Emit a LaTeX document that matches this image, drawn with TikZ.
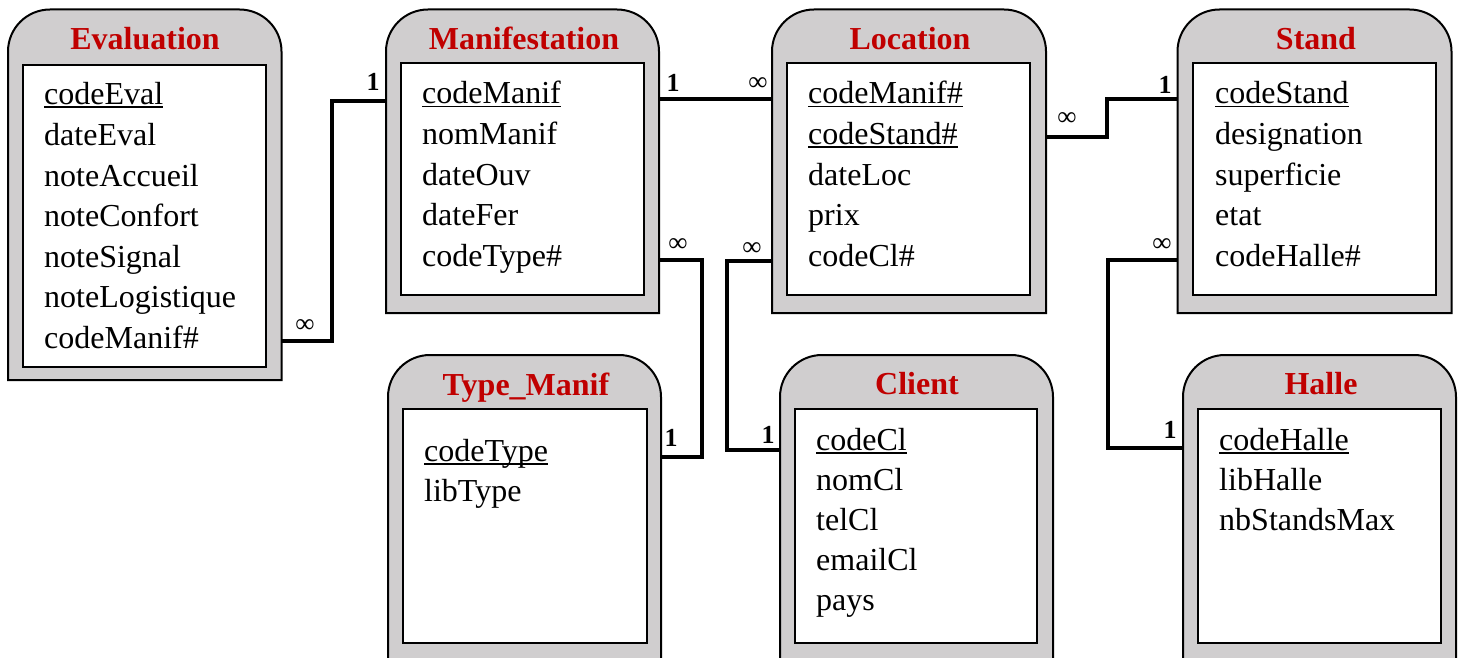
\documentclass[tikz,border=0pt]{standalone}
\usepackage{fontspec}
\setmainfont{Liberation Serif}
\definecolor{tabgray}{RGB}{208,206,207}
\definecolor{tabred}{RGB}{192,0,0}
\newcommand\keyul[1]{\setbox0\hbox{#1}\rlap{\rule[-3.5pt]{\wd0}{2pt}}\box0}
\newcommand\attrlist[5]{\foreach \t [count=\i from 0] in {#5} {\node[attr] (#1-\i) at ({#2},{#3+#4*\i}) {\t};}}
\newcommand\tabshape[1]{\draw[outerline] (#1.south west) -- ([yshift=-42pt]#1.north west) arc[start angle=180,end angle=90,radius=42pt] -- ([xshift=-42pt]#1.north east) arc[start angle=90,end angle=0,radius=42pt] -- (#1.south east) -- cycle;}
\tikzset{
 outerline/.style={draw=black, line width=2pt, fill=tabgray},
 innerbox/.style={draw=black, line width=2.5pt, fill=white, inner sep=0pt, outer sep=0pt, anchor=north west},
 tabframe/.style={draw=none, inner sep=0pt, outer sep=0pt, anchor=north west},
 titletxt/.style={font=\fontsize{32}{38}\selectfont\bfseries, text=tabred, anchor=base, inner sep=0pt},
 attr/.style={font=\fontsize{32}{38}\selectfont, anchor=base west, inner sep=0pt},
 conn/.style={line width=4pt, line join=miter},
 onelbl/.style={font=\fontsize{26}{30}\selectfont\bfseries, inner sep=0pt},
 manylbl/.style={font=\fontsize{27}{31}\selectfont, inner sep=0pt},
}
\begin{document}
\begin{tikzpicture}[x=1pt,y=-1pt]
\clip (0,0) rectangle (1461,658);
\fill[white] (0,0) rectangle (1461,658);
% frames
\node[tabframe, minimum width=273.5pt, minimum height=370.5pt] (eval) at (8,9.5) {};
\node[tabframe, minimum width=273pt, minimum height=303.5pt] (manif) at (386,9.5) {};
\node[tabframe, minimum width=274pt, minimum height=303.5pt] (loc) at (772,9.5) {};
\node[tabframe, minimum width=274pt, minimum height=303.5pt] (stand) at (1177.5,9.5) {};
\node[tabframe, minimum width=273pt, minimum height=325pt] (typem) at (388,355) {};
\node[tabframe, minimum width=273pt, minimum height=325pt] (client) at (780,355) {};
\node[tabframe, minimum width=273pt, minimum height=325pt] (halle) at (1183,355) {};
\tabshape{eval}
\tabshape{manif}
\tabshape{loc}
\tabshape{stand}
\tabshape{typem}
\tabshape{client}
\tabshape{halle}
% inner boxes
\node[innerbox, minimum width=243pt, minimum height=302pt] (evalin) at (23,65) {};
\node[innerbox, minimum width=243pt, minimum height=232pt] (manifin) at (401,63) {};
\node[innerbox, minimum width=243pt, minimum height=232pt] (locin) at (787,63) {};
\node[innerbox, minimum width=243pt, minimum height=232pt] (standin) at (1193,63) {};
\node[innerbox, minimum width=244pt, minimum height=234pt] (typemin) at (403,409) {};
\node[innerbox, minimum width=242pt, minimum height=234pt] (clientin) at (795,409) {};
\node[innerbox, minimum width=243pt, minimum height=234pt] (hallein) at (1198,409) {};
% titles
\node[titletxt] (evalt) at (145,50) {Evaluation};
\node[titletxt] (manift) at (524,50) {Manifestation};
\node[titletxt] (loct) at (910,50) {Location};
\node[titletxt] (standt) at (1316,50) {Stand};
\node[titletxt] (typemt) at (526,395) {Type\_Manif};
\node[titletxt] (clientt) at (917,394) {Client};
\node[titletxt] (hallet) at (1321,394) {Halle};
% attributes
\attrlist{evala}{44}{105}{40.5}{\keyul{codeEval},dateEval,noteAccueil,noteConfort,noteSignal,noteLogistique,codeManif\#}
\attrlist{manifa}{422}{104}{40.5}{\keyul{codeManif},nomManif,dateOuv,dateFer,codeType\#}
\attrlist{loca}{808}{104}{40.5}{\keyul{codeManif\#},\keyul{codeStand\#},dateLoc,prix,codeCl\#}
\attrlist{standa}{1215}{104}{40.5}{\keyul{codeStand},designation,superficie,etat,codeHalle\#}
\attrlist{typema}{424}{461}{40}{\keyul{codeType},libType}
\attrlist{clienta}{816}{450}{40}{\keyul{codeCl},nomCl,telCl,emailCl,pays}
\attrlist{hallea}{1219}{450}{40}{\keyul{codeHalle},libHalle,nbStandsMax}
% connectors
\draw[conn] (eval.east |- 0,341) -| (332,101) -- (manif.west |- 0,101);
\draw[conn] (manif.east |- 0,99) -- (loc.west |- 0,99);
\draw[conn] (manif.east |- 0,260) -| (702,457) -- (typem.east |- 0,457);
\draw[conn] (loc.west |- 0,261) -| (727,450) -- (client.west |- 0,450);
\draw[conn] (loc.east |- 0,137) -| (1107,99) -- (stand.west |- 0,99);
\draw[conn] (stand.west |- 0,260) -| (1108,448) -- (halle.west |- 0,448);
% cardinalities
\node[manylbl] (c1a) at (305,326) {∞};
\node[onelbl] (c1b) at (373,82) {1};
\node[onelbl] (c2a) at (673,83) {1};
\node[manylbl] (c2b) at (758,84) {∞};
\node[manylbl] (c3a) at (678,245) {∞};
\node[onelbl] (c3b) at (671,438) {1};
\node[manylbl] (c4a) at (752,249) {∞};
\node[onelbl] (c4b) at (768,435) {1};
\node[manylbl] (c5a) at (1067,119) {∞};
\node[onelbl] (c5b) at (1165,85) {1};
\node[manylbl] (c6a) at (1162,245) {∞};
\node[onelbl] (c6b) at (1170,430) {1};
\end{tikzpicture}
\end{document}
